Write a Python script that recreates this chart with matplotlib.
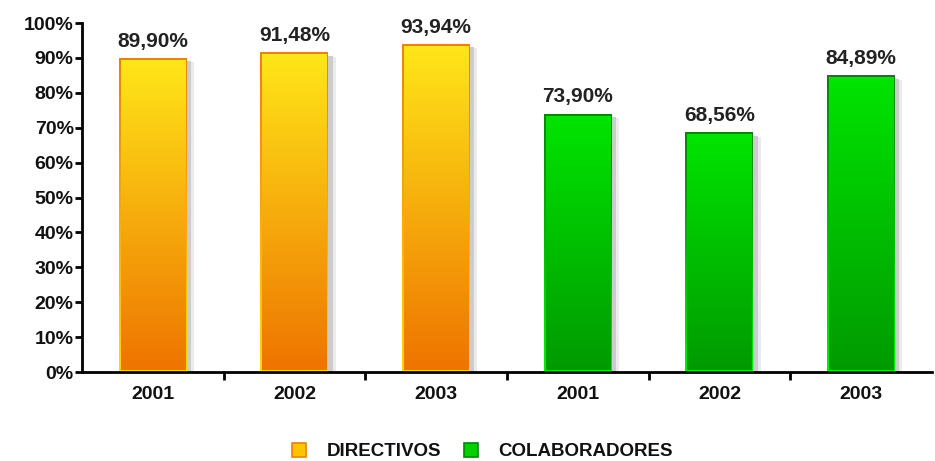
import numpy as np
import matplotlib.pyplot as plt
from matplotlib.colors import LinearSegmentedColormap
from matplotlib.patches import Patch, Rectangle

plt.rcParams['font.family'] = ['Liberation Sans', 'DejaVu Sans']
plt.rcParams['font.weight'] = 'bold'

# --- DATA ---
years = ['2001', '2002', '2003', '2001', '2002', '2003']
directivos = [89.90, 91.48, 93.94]
colaboradores = [73.90, 68.56, 84.89]
values = directivos + colaboradores
groups = ['DIRECTIVOS'] * 3 + ['COLABORADORES'] * 3
legend_labels = ['DIRECTIVOS', 'COLABORADORES']

# gradient colours: (bottom, top)
fill = {'DIRECTIVOS': ('#EE7400', '#FFE619'),
        'COLABORADORES': ('#009A00', '#00E400')}
edge = {'DIRECTIVOS': ('#FFD800', '#F08000'),
        'COLABORADORES': ('#00F000', '#008800')}

fig = plt.figure(figsize=(9.35, 4.61), dpi=100)
ax = fig.add_axes([0.0877, 0.193, 0.909, 0.757])
ax.set_xlim(-0.5, 5.5)
ax.set_ylim(0, 100)

width = 0.48
grad = np.linspace(0, 1, 256).reshape(-1, 1)
dx = 2 / 142   # ~2 px in data units
dy = 0.6

for i, (v, g) in enumerate(zip(values, groups)):
    x0, x1 = i - width / 2, i + width / 2
    # soft shadow on the right
    ax.add_patch(Rectangle((x1, 0), 0.03, v - 0.8, color='#cccccc', lw=0, zorder=1))
    ax.add_patch(Rectangle((x1 + 0.03, 0), 0.02, v - 1.2, color='#ebebeb', lw=0, zorder=1))
    cm_e = LinearSegmentedColormap.from_list('e', edge[g])
    cm_f = LinearSegmentedColormap.from_list('f', fill[g])
    ax.imshow(grad, cmap=cm_e, origin='lower', extent=(x0, x1, 0, v),
              aspect='auto', zorder=2, interpolation='bilinear')
    ax.imshow(grad, cmap=cm_f, origin='lower', extent=(x0 + dx, x1 - dx, dy, v - dy),
              aspect='auto', zorder=3, interpolation='bilinear')
    ax.text(i, v + 2.2, f'{v:.2f}%'.replace('.', ','), ha='center', va='bottom',
            fontsize=15, fontweight='bold', color='#222222')

ax.set_xticks(range(len(years)))
ax.set_xticklabels(years, fontsize=14, fontweight='bold', color='#111111')
ax.tick_params(axis='x', length=0, pad=10)
ax.set_xticks(np.arange(0.5, 5, 1), minor=True)
ax.tick_params(axis='x', which='minor', length=6, width=2, direction='out')

ax.set_yticks(range(0, 101, 10))
ax.set_yticklabels([f'{t}%' for t in range(0, 101, 10)], fontsize=14,
                   fontweight='bold', color='#111111')
ax.tick_params(axis='y', length=5, width=2, direction='out', pad=1)

for s in ['top', 'right']:
    ax.spines[s].set_visible(False)
for s in ['left', 'bottom']:
    ax.spines[s].set_linewidth(2)
    ax.spines[s].set_zorder(5)

handles = [Patch(facecolor='#FFC400', edgecolor='#F08000', lw=1.2),
           Patch(facecolor='#00D000', edgecolor='#008800', lw=1.2)]
fig.legend(handles, legend_labels, loc='lower center', bbox_to_anchor=(0.516, -0.035),
           ncol=2, frameon=False, handlelength=0.75, handleheight=0.75,
           columnspacing=1.2, handletextpad=1.1,
           prop={'size': 13.5, 'weight': 'bold'}, labelcolor='#111111')

fig.savefig('out.png', dpi=100)
